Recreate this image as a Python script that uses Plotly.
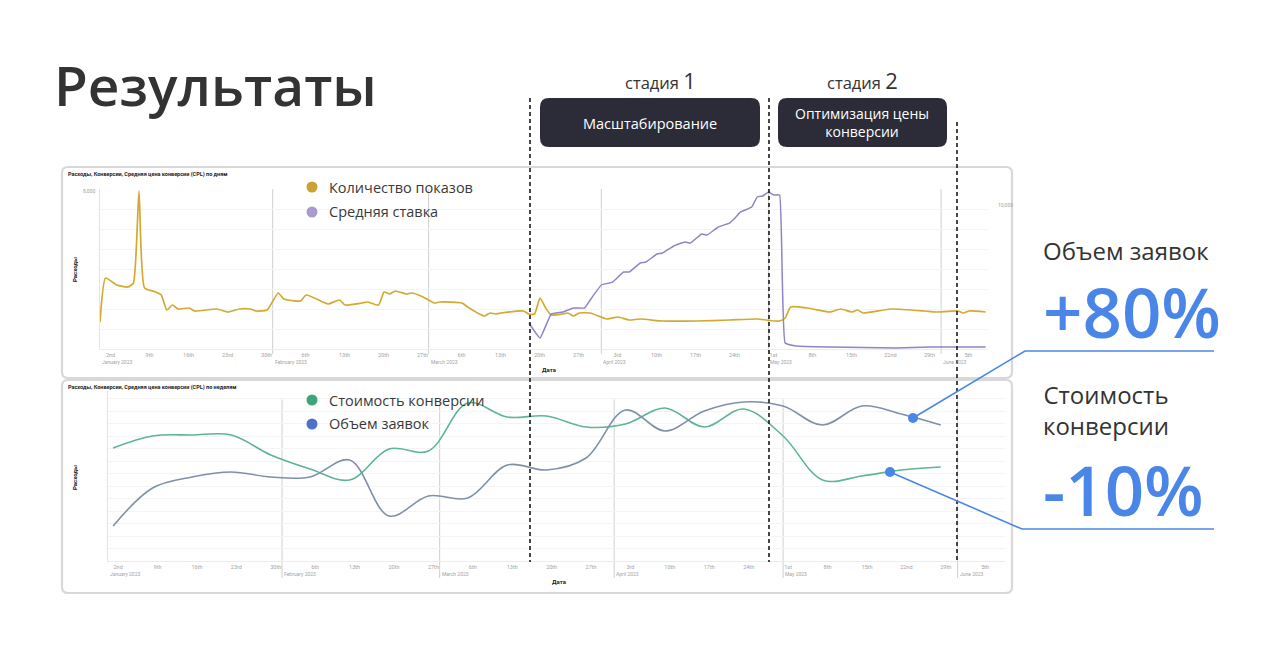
import plotly.graph_objects as go

W, H = 1280, 663


def px(x):
    return x / W


def py(y):
    return 1 - y / H


# ---------------- DATA ----------------
# Top chart (daily): "Количество показов"
imp_dates = ["2023-01-01", "2023-01-02", "2023-01-04", "2023-01-06", "2023-01-07", "2023-01-08",
             "2023-01-09", "2023-01-11", "2023-01-12", "2023-01-13", "2023-01-14", "2023-01-15",
             "2023-01-17", "2023-01-18", "2023-01-22", "2023-01-24", "2023-01-26", "2023-01-28",
             "2023-01-29", "2023-01-31", "2023-02-02", "2023-02-03", "2023-02-06", "2023-02-07",
             "2023-02-10", "2023-02-11", "2023-02-13", "2023-02-14", "2023-02-17", "2023-02-18",
             "2023-02-20", "2023-02-21", "2023-02-22", "2023-02-23", "2023-02-25", "2023-02-26",
             "2023-02-28", "2023-03-02", "2023-03-03", "2023-03-07", "2023-03-08", "2023-03-11",
             "2023-03-12", "2023-03-13", "2023-03-14", "2023-03-18", "2023-03-19", "2023-03-20",
             "2023-03-21", "2023-03-22", "2023-03-23", "2023-03-25", "2023-03-26", "2023-03-27",
             "2023-03-28", "2023-03-30", "2023-04-02", "2023-04-04", "2023-04-06", "2023-04-08",
             "2023-04-12", "2023-04-18", "2023-04-24", "2023-04-29", "2023-05-02", "2023-05-03",
             "2023-05-04", "2023-05-05", "2023-05-08", "2023-05-09", "2023-05-12", "2023-05-14",
             "2023-05-16", "2023-05-17", "2023-05-18", "2023-05-23", "2023-05-29", "2023-05-31",
             "2023-06-04", "2023-06-05", "2023-06-06", "2023-06-09"]
imp_vals = [1350, 3550, 3200, 3100, 3300, 7900,
            3050, 2850, 2700, 1950, 2200, 2000,
            2050, 1900, 2000, 1850, 2000, 2000,
            1900, 1950, 2800, 2500, 2400, 2700,
            2350, 2250, 2450, 2200, 2300, 2350,
            2200, 2850, 2750, 2900, 2750, 2800,
            2600, 2300, 2350, 2300, 2100, 1650,
            1800, 1750, 1800, 1900, 1750, 1750,
            2550, 2050, 1700, 1750, 1800, 1650,
            1800, 1800, 1500, 1600, 1450, 1500,
            1400, 1400, 1450, 1500, 1400, 1400,
            1550, 2100, 2050, 2000, 1850, 2000,
            1850, 1950, 1800, 2000, 1900, 1850,
            1900, 1800, 1900, 1850]

# Top chart (daily): "Средняя ставка" (right axis)
bid_dates = ["2023-03-19", "2023-03-21", "2023-03-23", "2023-03-25", "2023-03-27", "2023-03-29",
             "2023-03-30", "2023-04-01", "2023-04-03", "2023-04-05", "2023-04-06", "2023-04-08",
             "2023-04-09", "2023-04-11", "2023-04-12", "2023-04-14", "2023-04-16", "2023-04-17",
             "2023-04-19", "2023-04-20", "2023-04-22", "2023-04-24", "2023-04-25", "2023-04-26",
             "2023-04-28", "2023-04-29", "2023-04-30", "2023-05-01", "2023-05-02", "2023-05-03",
             "2023-05-04", "2023-05-06", "2023-05-12", "2023-05-24", "2023-05-30", "2023-06-09"]
bid_vals = [1790, 760, 2400, 2540, 2820, 2820,
            3370, 4400, 4600, 5290, 5290, 5910,
            5980, 6530, 6600, 7080, 7360, 7290,
            7910, 7840, 8390, 8660, 9010, 9420,
            9760, 10450, 10520, 10790, 10590, 10590,
            410, 210, 140, 70, 140, 140]

# Bottom chart (weekly)
week_dates = ["2023-01-02", "2023-01-09", "2023-01-16", "2023-01-23", "2023-01-30", "2023-02-06",
              "2023-02-13", "2023-02-20", "2023-02-27", "2023-03-06", "2023-03-13", "2023-03-20",
              "2023-03-27", "2023-04-03", "2023-04-10", "2023-04-17", "2023-04-24", "2023-05-01",
              "2023-05-08", "2023-05-15", "2023-05-22", "2023-05-29"]
cost_vals = [1130, 1250, 1260, 1260, 1060, 920,
             810, 1120, 1100, 1580, 1440, 1450,
             1340, 1370, 1530, 1340, 1520, 1250,
             810, 850, 910, 940]
leads_vals = [350, 730, 840, 890, 840, 840,
              1010, 450, 650, 630, 960, 910,
              1030, 1510, 1300, 1500, 1590, 1550,
              1360, 1550, 1470, 1360]

# Tick labels
tick_days = ["2023-01-02", "2023-01-09", "2023-01-16", "2023-01-23", "2023-01-30", "2023-02-06",
             "2023-02-13", "2023-02-20", "2023-02-27", "2023-03-06", "2023-03-13", "2023-03-20",
             "2023-03-27", "2023-04-03", "2023-04-10", "2023-04-17", "2023-04-24", "2023-05-01",
             "2023-05-08", "2023-05-15", "2023-05-22", "2023-05-29", "2023-06-05"]
tick_day_text = ["2nd", "9th", "16th", "23rd", "30th", "6th", "13th", "20th", "27th", "6th",
                 "13th", "20th", "27th", "3rd", "10th", "17th", "24th", "1st", "8th", "15th",
                 "22nd", "29th", "5th"]
month_starts = ["2023-01-01", "2023-02-01", "2023-03-01", "2023-04-01", "2023-05-01", "2023-06-01"]
month_text = ["January 2023", "February 2023", "March 2023", "April 2023", "May 2023", "June 2023"]

legend_top = ["Количество показов", "Средняя ставка"]
legend_bottom = ["Стоимость конверсии", "Объем заявок"]

X_RANGE = ["2023-01-01", "2023-06-09 10:00"]

C_YELLOW = "#d2aa30"
C_PURPLE = "#8f84c6"
C_GREEN = "#5db596"
C_BLUE_LINE = "#7f90aa"
C_ACCENT = "#4a86e8"
FONT = "Open Sans"

fig = go.Figure()
fig.add_trace(go.Scatter(x=imp_dates, y=imp_vals, mode="lines", xaxis="x", yaxis="y",
                         line=dict(color=C_YELLOW, width=1.7, shape="spline", smoothing=0.5),
                         showlegend=False, hoverinfo="skip"))
fig.add_trace(go.Scatter(x=bid_dates, y=bid_vals, mode="lines", xaxis="x", yaxis="y3",
                         line=dict(color=C_PURPLE, width=1.5, shape="spline", smoothing=0.3),
                         showlegend=False, hoverinfo="skip"))
fig.add_trace(go.Scatter(x=week_dates, y=cost_vals, mode="lines", xaxis="x2", yaxis="y2",
                         line=dict(color=C_GREEN, width=1.6, shape="spline", smoothing=1.0),
                         showlegend=False, hoverinfo="skip"))
fig.add_trace(go.Scatter(x=week_dates, y=leads_vals, mode="lines", xaxis="x2", yaxis="y2",
                         line=dict(color=C_BLUE_LINE, width=1.6, shape="spline", smoothing=1.0),
                         showlegend=False, hoverinfo="skip"))

xaxis_common = dict(range=X_RANGE, type="date", tickvals=tick_days, ticktext=tick_day_text,
                    tickangle=0, ticks="", showgrid=False, zeroline=False, showline=True,
                    linecolor="#ececec", tickfont=dict(size=5.5, color="#a3a3a3", family="Roboto"),
                    ticklabelshift=5, ticklabelstandoff=0, fixedrange=True)

fig.update_layout(
    width=W, height=H,
    margin=dict(l=0, r=0, t=0, b=0),
    paper_bgcolor="white", plot_bgcolor="rgba(0,0,0,0)",
    showlegend=False,
    xaxis=dict(domain=[px(100), px(988)], anchor="y", **xaxis_common),
    yaxis=dict(domain=[py(349), py(189)], range=[0, 8000], anchor="x", showticklabels=False,
               showgrid=True, gridcolor="#f4f4f4", dtick=1000, zeroline=False,
               showline=True, linecolor="#e4e4e4", ticks=""),
    yaxis3=dict(overlaying="y", side="right", anchor="x", range=[0, 11000], showgrid=False,
                showticklabels=False, zeroline=False, showline=False, ticks=""),
    xaxis2=dict(domain=[px(107.5), px(1005)], anchor="y2", **xaxis_common),
    yaxis2=dict(domain=[py(561), py(391)], range=[0, 1700], anchor="x2", showticklabels=False,
                showgrid=True, gridcolor="#f4f4f4", dtick=125, zeroline=False,
                showline=True, linecolor="#e4e4e4", ticks=""),
)

shapes = []
annotations = []


def ann(x, y, text, size, color="#333333", xanchor="left", weight=400, family=FONT, **kw):
    annotations.append(dict(x=px(x), y=py(y), xref="paper", yref="paper", text=text,
                            showarrow=False, xanchor=xanchor, yanchor="middle",
                            font=dict(size=size, color=color, family=family, weight=weight), **kw))


def rrect(x0, y0, x1, y1, r, fill, line_color=None, line_w=0, layer="below"):
    rx, ry = r / W, r / H
    X0, X1 = px(x0), px(x1)
    Y0, Y1 = py(y1), py(y0)
    path = (f"M {X0+rx},{Y1} L {X1-rx},{Y1} Q {X1},{Y1} {X1},{Y1-ry} "
            f"L {X1},{Y0+ry} Q {X1},{Y0} {X1-rx},{Y0} L {X0+rx},{Y0} "
            f"Q {X0},{Y0} {X0},{Y0+ry} L {X0},{Y1-ry} Q {X0},{Y1} {X0+rx},{Y1} Z")
    shapes.append(dict(type="path", path=path, xref="paper", yref="paper", fillcolor=fill,
                       line=dict(color=line_color or "rgba(0,0,0,0)", width=line_w), layer=layer))


def circle(cx, cy, r, color):
    shapes.append(dict(type="circle", xref="paper", yref="paper",
                       x0=px(cx - r), x1=px(cx + r), y0=py(cy + r), y1=py(cy - r),
                       fillcolor=color, line=dict(width=0), layer="above"))


def pline(pts, color, width, dash="solid", layer="above"):
    path = "M " + " L ".join(f"{px(x)},{py(y)}" for x, y in pts)
    shapes.append(dict(type="path", path=path, xref="paper", yref="paper",
                       line=dict(color=color, width=width, dash=dash), layer=layer))


# chart cards
rrect(62, 167, 1012, 378, 6, "rgba(0,0,0,0)", "#d8d8d8", 2.2)
rrect(62, 380, 1012, 593, 6, "rgba(0,0,0,0)", "#d8d8d8", 2.2)

# month gridlines
for m in month_starts[1:]:
    shapes.append(dict(type="line", xref="x", yref="y domain", x0=m, x1=m, y0=-0.03, y1=1,
                       line=dict(color="#cfcfcf", width=1), layer="below"))
    shapes.append(dict(type="line", xref="x2", yref="y2 domain", x0=m, x1=m, y0=-0.1, y1=0.95,
                       line=dict(color="#cfcfcf", width=1), layer="below"))

# month labels under the day ticks
for m, t in zip(month_starts, month_text):
    annotations.append(dict(x=m, y=py(362), xref="x", yref="paper", text=t, showarrow=False,
                            xanchor="left", yanchor="middle",
                            font=dict(size=5, color="#a3a3a3", family="Roboto")))
    annotations.append(dict(x=m, y=py(574), xref="x2", yref="paper", text=t, showarrow=False,
                            xanchor="left", yanchor="middle",
                            font=dict(size=5, color="#a3a3a3", family="Roboto")))

# stage boxes
rrect(540, 98, 760, 147, 9, "#2b2c37", layer="above")
rrect(778, 98, 947, 147, 9, "#2b2c37", layer="above")

# stage dashed separators
for x, ytop in [(530, 98), (769, 98), (957, 122)]:
    shapes.append(dict(type="line", xref="paper", yref="paper", x0=px(x), x1=px(x),
                       y0=py(ytop), y1=py(562), line=dict(color="#1a1a1a", width=1.6, dash="4px,3px"),
                       layer="above"))

# legends
circle(312, 187, 5.5, "#c9a135")
circle(312, 212, 5.5, "#a99bd0")
circle(312, 400, 5.5, "#3ba57c")
circle(312, 424, 5.5, "#4a73c7")
ann(327, 187, legend_top[0], 14.5, "#3a3a3a", weight=500)
ann(327, 212, legend_top[1], 14.5, "#3a3a3a", weight=500)
ann(327, 400, legend_bottom[0], 14.5, "#3a3a3a", weight=500)
ann(327, 424, legend_bottom[1], 14.5, "#3a3a3a", weight=500)

# callouts
pline([(913, 418), (1025, 351), (1214, 351)], C_ACCENT, 1.6)
pline([(890, 472), (1022, 529), (1214, 529)], C_ACCENT, 1.6)
circle(913, 418, 5, C_ACCENT)
circle(890, 472, 5, C_ACCENT)

# chart tiny texts
ann(66, 175, "Расходы, Конверсии, Средняя цена конверсии (CPL) по дням", 5.5, "#222222",
    weight=700, family="Roboto")
ann(66, 387, "Расходы, Конверсии, Средняя цена конверсии (CPL) по неделям", 5.5, "#222222",
    weight=700, family="Roboto")
ann(74, 270, "Расходы", 6, "#222222", xanchor="center", weight=700, family="Roboto", textangle=-90)
ann(74, 478, "Расходы", 6, "#222222", xanchor="center", weight=700, family="Roboto", textangle=-90)
ann(540, 369, "Дата", 6, "#222222", weight=700, family="Roboto")
ann(550, 581, "Дата", 6, "#222222", weight=700, family="Roboto")
ann(97, 191, "8,000", 5, "#a3a3a3", xanchor="right", family="Roboto")
ann(996, 205, "10,000", 5, "#a3a3a3", family="Roboto")

# slide texts
ann(52, 85, "Результаты", 55, "#333333", weight=600)
ann(660, 80, "стадия <span style='font-size:22px'>1</span>", 16.5, "#333333", xanchor="center", weight=500)
ann(862, 80, "стадия <span style='font-size:22px'>2</span>", 16.5, "#333333", xanchor="center", weight=500)
ann(650, 123, "Масштабирование", 14.5, "#ffffff", xanchor="center")
ann(862, 122, "Оптимизация цены<br>конверсии", 14, "#ffffff", xanchor="center")

ann(1041, 250, "Объем заявок", 24, "#333333")
ann(1041, 311, "+80%", 69, C_ACCENT, weight=600)
ann(1041, 410, "Стоимость<br>конверсии", 24, "#333333")
ann(1041, 489, "-10%", 69, C_ACCENT, weight=600)

fig.update_layout(shapes=shapes, annotations=annotations)
fig.write_html("out.html")
